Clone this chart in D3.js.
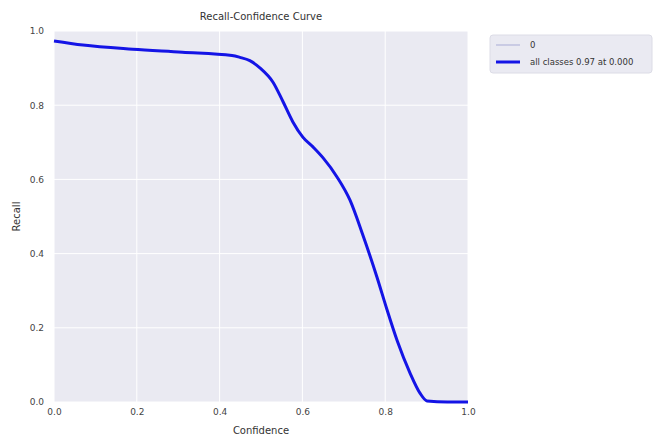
<!DOCTYPE html>
<html>
<head>
<meta charset="utf-8">
<script src="https://cdn.jsdelivr.net/npm/d3@7"></script>
<style>
  body { margin: 0; background: #fff; }
  text { font-family: "DejaVu Sans", Arial, sans-serif; }
</style>
</head>
<body>
<svg id="chart" width="654" height="435"></svg>
<script>
// values
const confidence = [0.0, 0.07, 0.19, 0.31, 0.43, 0.449, 0.473, 0.498, 0.529, 0.553, 0.577, 0.601, 0.626, 0.65, 0.684, 0.715, 0.746, 0.78, 0.804, 0.829, 0.86, 0.884, 0.901, 0.95, 1.0];
const recall     = [0.973, 0.962, 0.951, 0.943, 0.934, 0.929, 0.920, 0.900, 0.862, 0.810, 0.755, 0.714, 0.687, 0.658, 0.606, 0.544, 0.450, 0.337, 0.250, 0.165, 0.078, 0.024, 0.003, 0.0, 0.0];
const xTicks = [0, 0.2, 0.4, 0.6, 0.8, 1.0];
const yTicks = [0, 0.2, 0.4, 0.6, 0.8, 1.0];
const legendLabels = ["0", "all classes 0.97 at 0.000"];

const margin = { left: 54, top: 31, right: 186, bottom: 33 };
const svg = d3.select("#chart");
const width = 654 - margin.left - margin.right;
const height = 435 - margin.top - margin.bottom;

const g = svg.append("g").attr("transform", `translate(${margin.left},${margin.top})`);

const x = d3.scaleLinear().domain([0, 1]).range([0, width]);
const y = d3.scaleLinear().domain([0, 1]).range([height, 0]);

g.append("rect").attr("width", width).attr("height", height).attr("fill", "#eaeaf2");

// grid
g.selectAll(".gx").data(xTicks).enter().append("line")
    .attr("x1", d => x(d)).attr("x2", d => x(d))
    .attr("y1", 0).attr("y2", height)
    .attr("stroke", "#fff").attr("stroke-width", 1);
g.selectAll(".gy").data(yTicks).enter().append("line")
    .attr("y1", d => y(d)).attr("y2", d => y(d))
    .attr("x1", 0).attr("x2", width)
    .attr("stroke", "#fff").attr("stroke-width", 1);

// axes
const xAxis = g.append("g")
    .attr("transform", `translate(0,${height})`)
    .call(d3.axisBottom(x).tickValues(xTicks).tickFormat(d3.format(".1f")).tickSize(0).tickPadding(7));
const yAxis = g.append("g")
    .call(d3.axisLeft(y).tickValues(yTicks).tickFormat(d3.format(".1f")).tickSize(0).tickPadding(10));
[xAxis, yAxis].forEach(a => {
    a.select(".domain").remove();
    a.selectAll("text").attr("fill", "#444").style("font-size", "9px");
});

const data = confidence.map((c, i) => ({ c: c, r: recall[i] }));
const line = d3.line().x(d => x(d.c)).y(d => y(d.r)).curve(d3.curveMonotoneX);

g.append("path").datum(data).attr("d", line)
    .attr("fill", "none").attr("stroke", "#a9acd6").attr("stroke-width", 1);
g.append("path").datum(data).attr("d", line)
    .attr("fill", "none").attr("stroke", "#1414e6").attr("stroke-width", 3);

// labels
svg.append("text").attr("x", margin.left + width / 2).attr("y", 20)
    .attr("text-anchor", "middle").style("font-size", "10px").attr("fill", "#333")
    .text("Recall-Confidence Curve");
svg.append("text").attr("x", margin.left + width / 2).attr("y", 434)
    .attr("text-anchor", "middle").style("font-size", "10px").attr("fill", "#333")
    .text("Confidence");
svg.append("text").attr("transform", `translate(20,${margin.top + height / 2}) rotate(-90)`)
    .attr("text-anchor", "middle").style("font-size", "10px").attr("fill", "#333")
    .text("Recall");

// legend
const lg = svg.append("g").attr("transform", "translate(490,35)");
lg.append("rect").attr("width", 162).attr("height", 38).attr("rx", 3)
    .attr("fill", "#eaeaf2").attr("stroke", "#dcdce6");
const legendColors = ["#a9acd6", "#1414e6"];
const legendWidths = [1, 3];
legendLabels.forEach((lab, i) => {
    const yy = 10 + i * 17;
    lg.append("line").attr("x1", 6).attr("x2", 30).attr("y1", yy).attr("y2", yy)
        .attr("stroke", legendColors[i]).attr("stroke-width", legendWidths[i]);
    lg.append("text").attr("x", 40).attr("y", yy + 3).style("font-size", "8.5px")
        .attr("fill", "#333").text(lab);
});
</script>
</body>
</html>
